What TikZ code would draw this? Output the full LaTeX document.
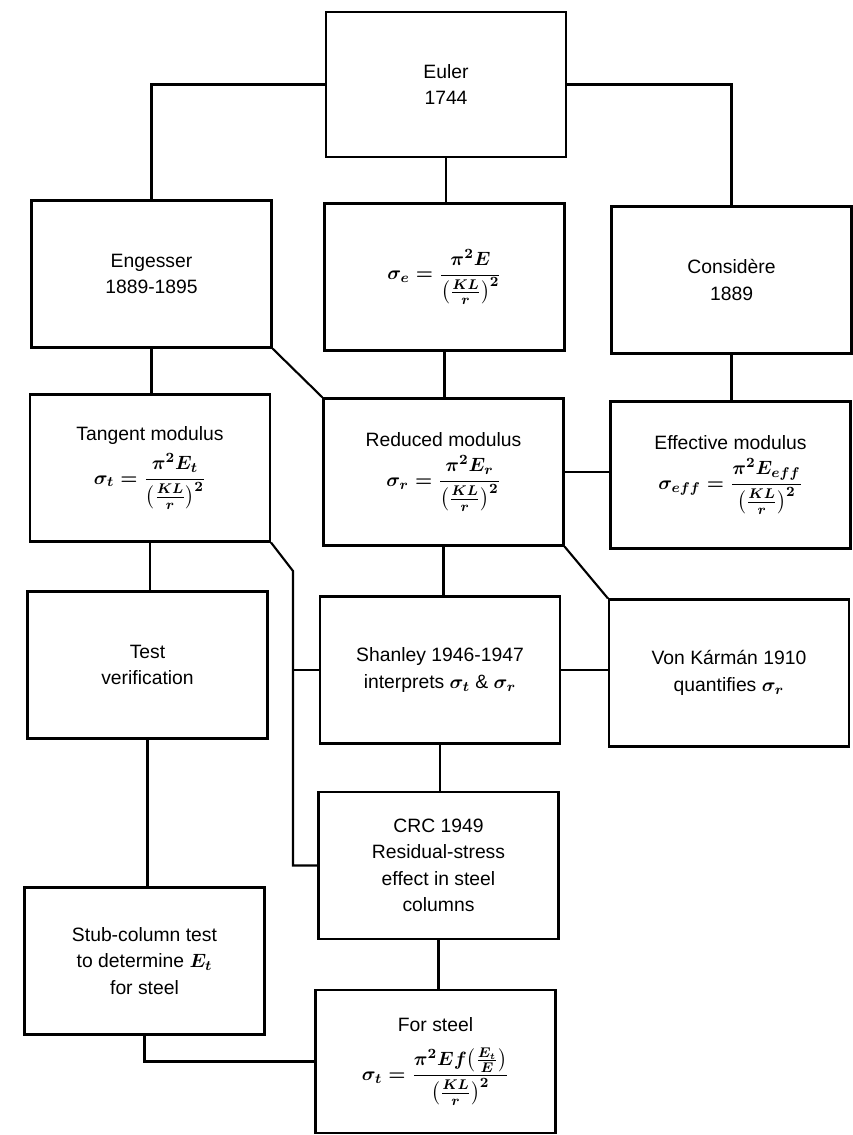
\documentclass[tikz,border=0pt]{standalone}
\usepackage{amsmath,amssymb}
\usepackage{fontspec}
\setmainfont{Liberation Sans}
\usetikzlibrary{positioning,calc}

\tikzset{
  blk/.style={draw,line width=1.2pt,minimum width=4.8cm,minimum height=2.94cm,
    inner sep=2pt,align=center,font=\fontsize{11}{15}\selectfont\boldmath},
  link/.style={line width=1.2pt}
}

\begin{document}
\begin{tikzpicture}[x=0.02cm,y=-0.02cm]
      \useasboundingbox (0,0) rectangle (852,1135);
      % top row
      \node[blk,minimum height=2.9cm] (euler) at (446,84.5) {Euler\\1744};
      \node[blk] (engesser) at (151.5,274) {Engesser\\1889-1895};
      \node[blk] (sige) at (444.5,277) {$\sigma_e=\dfrac{\pi^2E}{\bigl(\frac{KL}{r}\bigr)^2}$};
      \node[blk] (consid) at (731.5,280) {Considère\\1889};
      % moduli
      \node[blk] (tangent) at (150,468) {Tangent modulus\\[4pt]$\sigma_t=\dfrac{\pi^2E_t}{\bigl(\frac{KL}{r}\bigr)^2}$};
      \node[blk] (reduced) at (443.5,472) {Reduced modulus\\[4pt]$\sigma_r=\dfrac{\pi^2E_r}{\bigl(\frac{KL}{r}\bigr)^2}$};
      \node[blk] (effective) at (730.5,475) {Effective modulus\\[4pt]$\sigma_{eff}=\dfrac{\pi^2E_{eff}}{\bigl(\frac{KL}{r}\bigr)^2}$};
      % tests and interpretations
      \node[blk] (test) at (147.5,665) {Test\\verification};
      \node[blk] (shanley) at (440,670) {Shanley 1946-1947\\interprets $\sigma_t$ \& $\sigma_r$};
      \node[blk] (karman) at (729,673) {Von Kármán 1910\\quantifies $\sigma_r$};
      \node[blk] (crc) at (438.5,865.5) {CRC 1949\\Residual-stress\\effect in steel\\columns};
      \node[blk] (stub) at (144.5,961) {Stub-column test\\to determine $E_t$\\for steel};
      \node[blk,minimum height=2.86cm] (steel) at (435.5,1061.5) {For steel\\[8pt]$\sigma_t=\dfrac{\pi^2Ef\bigl(\frac{E_t}{E}\bigr)}{\bigl(\frac{KL}{r}\bigr)^2}$};
      % connectors from Euler
      \draw[link] (euler.west) -| (engesser.north);
      \draw[link] (euler.east) -| (consid.north);
      \draw[link] (euler.south) -- (euler.south |- sige.north);
      % second level
      \draw[link] (engesser.south) -- (engesser.south |- tangent.north);
      \draw[link] (engesser.south east) -- (reduced.north west);
      \draw[link] (sige.south) -- (sige.south |- reduced.north);
      \draw[link] (consid.south) -- (consid.south |- effective.north);
      \draw[link] (reduced.east) -- (reduced.east -| effective.west);
      % tangent modulus branch
      \coordinate (bend) at (293,571);
      \draw[link] (tangent.south) -- (tangent.south |- test.north);
      \draw[link] (tangent.south east) -- (bend) |- (crc.west);
      \draw[link] (bend |- shanley.west) -- (shanley.west);
      % reduced modulus branch
      \draw[link] (reduced.south) -- (reduced.south |- shanley.north);
      \draw[link] (reduced.south east) -- (karman.north west);
      \draw[link] (shanley.east) -- (shanley.east -| karman.west);
      % lower part
      \draw[link] (test.south) -- (test.south |- stub.north);
      \draw[link] (shanley.south) -- (shanley.south |- crc.north);
      \draw[link] (crc.south) -- (crc.south |- steel.north);
      \draw[link] (stub.south) |- (steel.west);
    \end{tikzpicture}
\end{document}
